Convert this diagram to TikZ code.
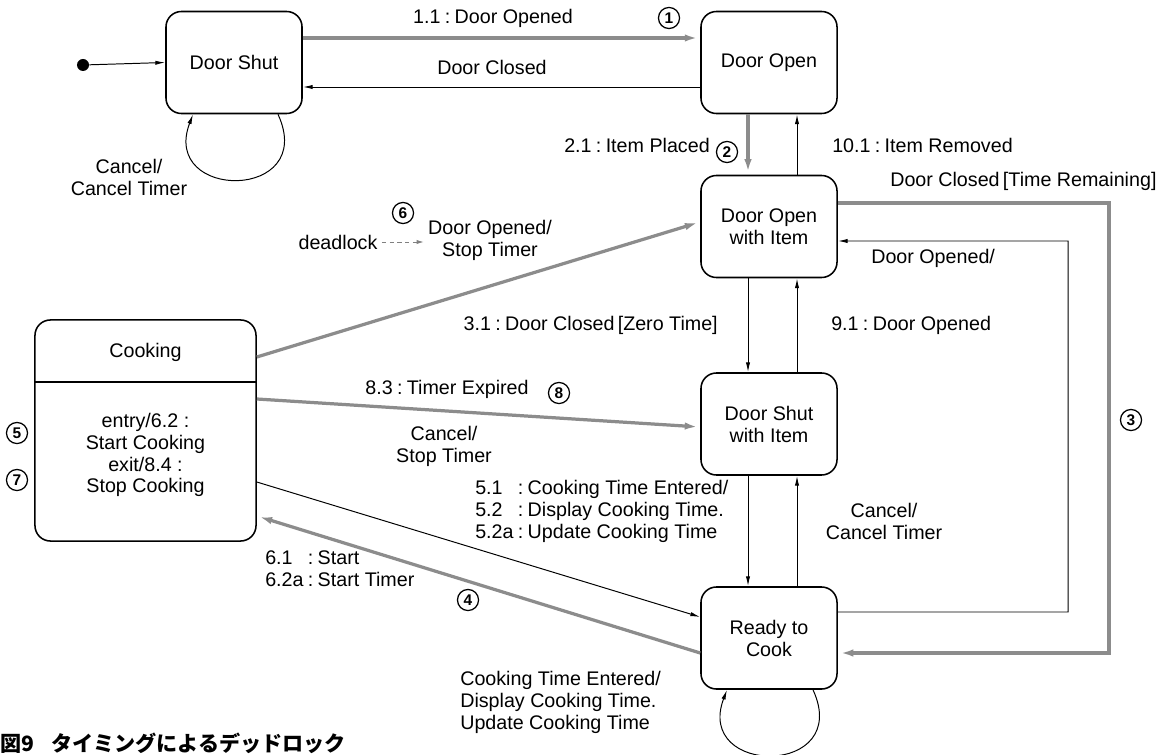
\documentclass[tikz,border=0pt]{standalone}
\usepackage{fontspec}
\setmainfont{Liberation Sans}
\newfontfamily\cjkfont{Noto Sans CJK JP}
\usetikzlibrary{arrows.meta,calc}

\newcommand{\tc}{\hspace{0.22em}:\hspace{0.22em}}

\tikzset{
  state/.style={draw,line width=1.1pt,rounded corners=11pt,minimum width=3.4cm,
    minimum height=2.55cm,align=center,inner sep=0pt},
  lbl/.style={inner sep=0pt,align=center},
  num/.style={circle,draw,line width=0.9pt,inner sep=0pt,minimum size=15pt,
    font=\fontsize{11}{11}\selectfont\bfseries},
  tline/.style={line width=0.7pt,draw=black,-{Latex[length=7pt,width=3pt]}},
  gline/.style={line width=2.3pt,draw=black!45,-{Latex[length=11pt,width=5pt]}}
}

\begin{document}
\begin{tikzpicture}[x=0.025cm,y=-0.025cm,font=\fontsize{14}{15.6}\selectfont]
  \useasboundingbox (0,0) rectangle (1170,755);

  % states
  \node[state] (shut) at (234,62.5) {Door Shut};
  \node[state] (open) at (769,62.5) {Door Open};
  \node[state] (openitem) at (769,226.5) {Door Open\\with Item};
  \node[state] (shutitem) at (769,424) {Door Shut\\with Item};
  \node[state] (ready) at (769,638) {Ready to\\Cook};
  \node[state,minimum width=5.525cm,minimum height=5.525cm] (cooking) at (145.5,430.5) {};
  \draw[line width=1.1pt] ($(cooking.north west)+(0,63)$) -- ($(cooking.north east)+(0,63)$);
  \node[lbl] (cooktitle) at (145.5,352) {Cooking};
  \node[lbl] (cookbody) at (145.5,455) {entry/6.2 :\\Start Cooking\\exit/8.4 :\\Stop Cooking};
  \node[circle,fill,inner sep=0pt,minimum size=0.3cm] (init) at (83,65) {};

  % transitions
  \draw[tline] (init) -- (shut.west);
  \draw[gline] ($(shut.east)+(0,-24.5)$) -- ($(open.west)+(0,-24.5)$);
  \draw[tline] ($(open.west)+(0,24.5)$) -- ($(shut.east)+(0,24.5)$);
  \draw[gline] ($(open.south)+(-21,0)$) -- ($(openitem.north)+(-21,0)$);
  \draw[tline] ($(openitem.north)+(28,0)$) -- ($(open.south)+(28,0)$);
  \draw[tline] ($(openitem.south)+(-21,0)$) -- ($(shutitem.north)+(-21,0)$);
  \draw[tline] ($(shutitem.north)+(28,0)$) -- ($(openitem.south)+(28,0)$);
  \draw[tline] ($(shutitem.south)+(-21,0)$) -- ($(ready.north)+(-21,0)$);
  \draw[tline] ($(ready.north)+(28,0)$) -- ($(shutitem.south)+(28,0)$);
  \draw[gline] ($(openitem.east)+(0,-23.5)$) -| (1109,653) -- ($(ready.east)+(0,15)$);
  \draw[tline] ($(ready.east)+(0,-26)$) -| (1068,241) -- ($(openitem.east)+(0,14.5)$);
  \draw[gline] ($(cooking.east)+(0,-73.5)$) -- ($(openitem.west)+(0,-4.5)$);
  \draw[gline] ($(cooking.east)+(0,-31.5)$) -- ($(shutitem.west)+(0,3)$);
  \draw[tline] ($(cooking.east)+(0,51.5)$) -- ($(ready.west)+(0,-21)$);
  \draw[gline] ($(ready.west)+(0,15)$) -- ($(cooking.east)+(0,85.5)$);
  \draw[tline] ($(shut.south)+(44,0)$) .. controls ($(shut.south)+(84,87)$)
    and ($(shut.south)+(-74,87)$) .. ($(shut.south)+(-41,0)$);
  \draw[tline] ($(ready.south)+(44,0)$) .. controls ($(ready.south)+(84,87)$)
    and ($(ready.south)+(-75,87)$) .. ($(ready.south)+(-42,0)$);

  % labels
  \node[lbl] (opened) at (493,18) {1.1\tc Door Opened};
  \node[lbl] (closed) at (492,67) {Door Closed};
  \node[lbl,anchor=east] (placed) at (710,145) {2.1\tc Item Placed};
  \node[lbl,anchor=west] (removed) at (832,145) {10.1\tc Item Removed};
  \node[lbl,anchor=west] (remain) at (890,181) {Door Closed\,[Time Remaining]};
  \node[lbl,anchor=west] (reopen) at (871,258) {Door Opened/};
  \node[lbl,anchor=east] (zerotime) at (718,325) {3.1\tc Door Closed\,[Zero Time]};
  \node[lbl,anchor=west] (dooropened) at (831,325) {9.1\tc Door Opened};
  \node[lbl] (expired) at (447,389) {8.3\tc Timer Expired};
  \node[lbl] (stoptimer) at (444,446) {Cancel/\\Stop Timer};
  \node[lbl,anchor=west] (timeset) at (475,512) {\begin{tabular}{@{}l@{}l@{}}
    5.1 & \tc Cooking Time Entered/\\
    5.2 & \tc Display Cooking Time.\\
    5.2a & \tc Update Cooking Time
  \end{tabular}};
  \node[lbl] (cancelB) at (884,521) {Cancel/\\Cancel Timer};
  \node[lbl,anchor=west] (startlbl) at (265,571) {\begin{tabular}{@{}l@{}l@{}}
    6.1 & \tc Start\\
    6.2a & \tc Start Timer
  \end{tabular}};
  \node[lbl,anchor=west,align=left] (looplbl) at (460,702) {Cooking Time Entered/\\Display Cooking Time.\\Update Cooking Time};
  \node[lbl] (cancelA) at (129,177) {Cancel/\\Cancel Timer};
  \node[lbl] (deadlock) at (338,242) {deadlock};
  \node[lbl] (stopA) at (490,240) {Door Opened/\\Stop Timer};
  \draw[black!50,line width=0.6pt,dash pattern=on 3pt off 2.5pt,shorten <=3pt,shorten >=3pt,
    -{Latex[length=5pt,width=3pt]}] (deadlock.east) -- (deadlock.east -| stopA.west);

  % step numbers
  \node[num] (n1) at (669,18) {1};
  \node[num] (n2) at (727,152) {2};
  \node[num] (n3) at (1131,420) {3};
  \node[num] (n4) at (468,600) {4};
  \node[num] (n5) at (17,433) {5};
  \node[num] (n6) at (403,213) {6};
  \node[num] (n7) at (17,480) {7};
  \node[num] (n8) at (559,393) {8};

  \node[lbl,anchor=west,font=\cjkfont\bfseries\fontsize{15}{15}\selectfont] (caption) at (0,743)
    {図9\hspace{0.8em}タイミングによるデッドロック};
\end{tikzpicture}
\end{document}
